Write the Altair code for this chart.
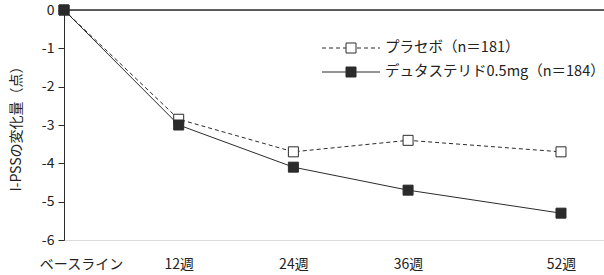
import altair as alt
import pandas as pd

weeks = [0, 12, 24, 36, 52]
week_labels = ["ベースライン", "12週", "24週", "36週", "52週"]
series_names = ["プラセボ（n＝181）", "デュタステリド0.5mg（n＝184）"]
placebo = [0, -2.85, -3.7, -3.4, -3.7]
dutasteride = [0, -3.0, -4.1, -4.7, -5.3]
y_ticks = [0, -1, -2, -3, -4, -5, -6]

FONT = "Noto Sans CJK JP"
DARK = "#2b2b2b"

rows = []
for w, p, d in zip(weeks, placebo, dutasteride):
    rows.append({"week": w, "value": p, "series": series_names[0]})
    rows.append({"week": w, "value": d, "series": series_names[1]})
df = pd.DataFrame(rows)

label_expr = " : ".join(
    [f"datum.value == {w} ? '{l}'" for w, l in zip(weeks, week_labels)]
) + " : ''"

x_scale = alt.Scale(domain=[0, 56.5], nice=False, zero=False)
y_scale = alt.Scale(domain=[-6, 0], nice=False)

x_axis = alt.Axis(
    values=weeks,
    labelExpr=label_expr,
    domain=False,
    ticks=False,
    tickSize=0,
    grid=False,
    title=None,
    labelPadding=17,
    labelFontSize=14,
    labelFont=FONT,
    labelColor="#222222",
    labelFlush=False,
    labelOverlap=False,
    labelBound=False,
    labelOffset=alt.ExprRef(expr="datum.value == 0 ? 17 : 0"),
)
y_axis = alt.Axis(
    values=y_ticks,
    labelExpr="'' + datum.value",
    grid=False,
    domainColor=DARK,
    tickColor=DARK,
    tickSize=6,
    labelPadding=4,
    labelFontSize=14,
    labelFont=FONT,
    labelColor="#222222",
    labelOverlap=False,
    labelFlush=False,
    title="I-PSSの変化量（点）",
    titleFont=FONT,
    titleFontSize=14,
    titleFontWeight="normal",
    titleColor="#222222",
    titlePadding=18,
)

x_enc = alt.X("week:Q", scale=x_scale, axis=x_axis)
y_enc = alt.Y("value:Q", scale=y_scale, axis=y_axis)

base = alt.Chart(df)

top_rule = alt.Chart(pd.DataFrame({"value": [0]})).mark_rule(
    color=DARK, strokeWidth=1.5
).encode(y=y_enc, x=alt.value(0), x2=alt.value("width"))

line_p = base.transform_filter(alt.datum.series == series_names[0]).mark_line(
    color=DARK, strokeWidth=1, strokeDash=[4, 3]
).encode(x=x_enc, y=y_enc)
line_d = base.transform_filter(alt.datum.series == series_names[1]).mark_line(
    color=DARK, strokeWidth=1
).encode(x=x_enc, y=y_enc)
pts_p = base.transform_filter(alt.datum.series == series_names[0]).mark_point(
    shape="square", filled=True, fill="white", stroke=DARK, strokeWidth=1, size=100, opacity=1
).encode(x=x_enc, y=y_enc)
pts_d = base.transform_filter(alt.datum.series == series_names[1]).mark_point(
    shape="square", filled=True, fill=DARK, stroke=DARK, strokeWidth=1, size=100, opacity=1
).encode(x=x_enc, y=y_enc)

# legend
leg_y = {0: 48, 1: 72}
legend_layers = []
for i, name in enumerate(series_names):
    d = alt.Chart(pd.DataFrame({"name": [name]}))
    yv = alt.value(leg_y[i] - 10)
    legend_layers.append(
        d.mark_rule(color=DARK, strokeWidth=1, strokeDash=[4, 3] if i == 0 else [1, 0]).encode(
            x=alt.value(258), x2=alt.value(316), y=yv
        )
    )
    legend_layers.append(
        d.mark_point(
            shape="square", filled=True, fill="white" if i == 0 else DARK,
            stroke=DARK, strokeWidth=1, size=100, opacity=1
        ).encode(x=alt.value(287), y=yv)
    )
    legend_layers.append(
        d.mark_text(align="left", baseline="middle", font=FONT, fontSize=14.5, color="#222222").encode(
            x=alt.value(321), y=yv, text="name:N"
        )
    )

chart = alt.layer(
    top_rule, line_p, line_d, pts_p, pts_d, *legend_layers
).properties(
    width=540,
    height=230,
    autosize=alt.AutoSizeParams(type="none"),
    padding={"left": 64, "top": 10, "right": 0, "bottom": 35},
).configure_view(stroke=None).configure(background="white")

chart.save("out.html", embed_options={"renderer": "svg", "actions": False})
